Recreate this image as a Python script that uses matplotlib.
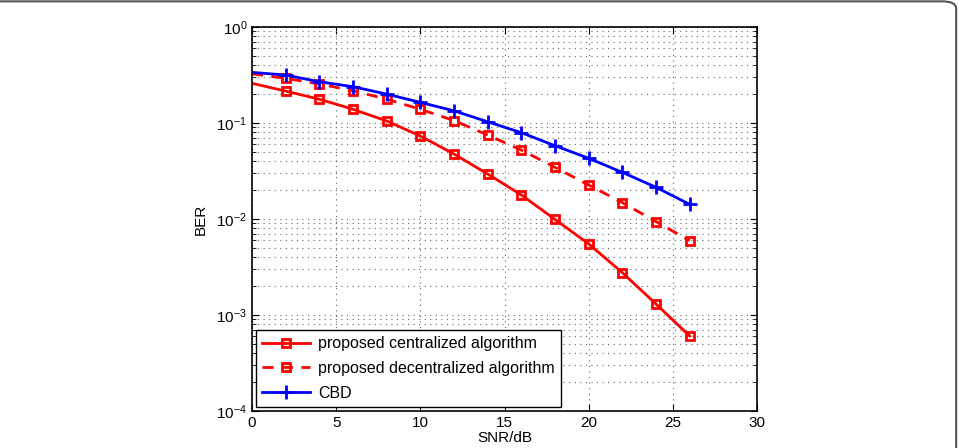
import numpy as np
import matplotlib.pyplot as plt
from matplotlib.patches import FancyBboxPatch

plt.rcParams['font.family'] = ['Liberation Sans', 'DejaVu Sans']

# SNR points (dB)
snr = [0, 2, 4, 6, 8, 10, 12, 14, 16, 18, 20, 22, 24, 26]

# BER
ber_central = [0.259, 0.215, 0.177, 0.139, 0.105, 0.0732, 0.0475, 0.0294,
               0.0178, 0.0099, 0.0055, 0.00276, 0.0013, 0.000604]
ber_decentral = [0.325, 0.292, 0.255, 0.217, 0.177, 0.139, 0.106, 0.075,
                 0.0523, 0.0345, 0.0226, 0.0148, 0.0094, 0.00594]
ber_cbd = [0.337, 0.316, 0.269, 0.239, 0.200, 0.164, 0.134, 0.103,
           0.0793, 0.058, 0.0429, 0.0306, 0.0214, 0.0142]

labels = ['proposed centralized algorithm',
          'proposed decentralized algorithm',
          'CBD']

fig = plt.figure(figsize=(9.59, 4.48), dpi=100)

# rounded frame around the figure
frame = FancyBboxPatch((-0.05, -0.2), 1.047, 1.197,
                       boxstyle="round,pad=0,rounding_size=0.015",
                       transform=fig.transFigure, fill=False,
                       edgecolor='#555555', lw=1.5, clip_on=False)
fig.patches.append(frame)

ax = fig.add_axes([0.2628, 0.0826, 0.5266, 0.8571])

ax.semilogy(snr, ber_central, color='red', lw=2, marker='s', ms=6,
            mfc='none', mew=2, markevery=slice(1, None), label=labels[0])
ax.semilogy(snr, ber_decentral, color='red', lw=2, ls=(0, (4, 3)), marker='s',
            ms=6, mfc='none', mew=2, markevery=slice(1, None), label=labels[1])
ax.semilogy(snr, ber_cbd, color='blue', lw=2, marker='+', ms=10, mew=2,
            markevery=slice(1, None), label=labels[2])

ax.set_xlim(0, 30)
ax.set_ylim(1e-4, 1)
ax.set_xticks([0, 5, 10, 15, 20, 25, 30])

# sparse dotted grid like MATLAB
ax.grid(True, which='major', axis='both', ls=(0, (1, 4)), color='#666666', lw=0.8)
ax.grid(True, which='minor', axis='y', ls=(0, (1, 4)), color='#666666', lw=0.8)

ax.tick_params(which='both', direction='in', top=True, right=True,
               labelsize=11)
ax.tick_params(which='major', length=5)
ax.tick_params(which='minor', length=3)
for s in ax.spines.values():
    s.set_linewidth(1.2)

ax.set_xlabel('SNR/dB', fontsize=11, labelpad=1)
ax.set_ylabel('BER', fontsize=11, labelpad=6)

leg = ax.legend(loc='lower left', fontsize=11.5, fancybox=False, framealpha=1,
                edgecolor='black', handlelength=3.0, borderaxespad=0.25,
                labelspacing=0.6, handletextpad=0.5)
leg.get_frame().set_linewidth(1.0)

fig.savefig('out.png', dpi=100)
